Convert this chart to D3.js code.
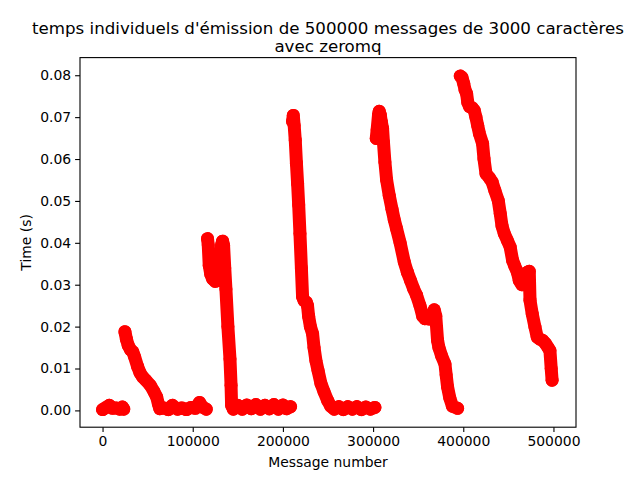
<!DOCTYPE html>
<html>
<head>
<meta charset="utf-8">
<script src="https://cdn.jsdelivr.net/npm/d3@7"></script>
<style>
  body { margin: 0; background: #fff; }
  text { font-family: "DejaVu Sans", sans-serif; fill: #000; }
</style>
</head>
<body>
<div id="chart"></div>
<script>
// message number / send time (s), one array per burst
const run1 = [[0, 0.0002], [4000, 0.0007], [7500, 0.0012], [11000, 0.0005], [15000, 0.0006],
    [19000, 0.0003], [22000, 0.0008], [23500, 0.0003]];
const run2 = [[24800, 0.0188], [26500, 0.0170], [28500, 0.0155], [31000, 0.0145], [33500, 0.0140],
    [35500, 0.0128], [38800, 0.0105], [41500, 0.0090], [44400, 0.0080], [48000, 0.0072],
    [52900, 0.0060], [57000, 0.0045], [60000, 0.0032], [62000, 0.0015], [63500, 0.0004],
    [68000, 0.0006], [73000, 0.0002], [77500, 0.0012], [83000, 0.0003], [88000, 0.0006],
    [93000, 0.0002], [98000, 0.0007], [103000, 0.0005], [107500, 0.0019], [111000, 0.0008],
    [115000, 0.0003]];
const run3 = [[116400, 0.0410], [117200, 0.0395], [118300, 0.0346], [120000, 0.0325], [122000, 0.0314],
    [125000, 0.0308], [128000, 0.0310], [130500, 0.0340], [132000, 0.0395], [133100, 0.0404],
    [134200, 0.0394], [135500, 0.0340], [136800, 0.0290], [139000, 0.0200], [141300, 0.0123],
    [142500, 0.0060], [143100, 0.0012], [145000, 0.0003], [150000, 0.0012], [155000, 0.0003],
    [160000, 0.0013], [165000, 0.0004], [170000, 0.0014], [175000, 0.0003], [180000, 0.0012],
    [185000, 0.0004], [190000, 0.0014], [195000, 0.0003], [200000, 0.0013], [204000, 0.0004],
    [208500, 0.0009]];
const run4 = [[210700, 0.0690], [211500, 0.0704], [212500, 0.0680], [213700, 0.0645], [215000, 0.0590],
    [216300, 0.0541], [217500, 0.0490], [218900, 0.0422], [220500, 0.0340], [221800, 0.0271],
    [223500, 0.0262], [226000, 0.0258], [227300, 0.0250], [228500, 0.0225], [230500, 0.0200],
    [232900, 0.0183], [234500, 0.0150], [236600, 0.0119], [239000, 0.0095], [242200, 0.0064],
    [245500, 0.0045], [249500, 0.0024], [253000, 0.0010], [257000, 0.0003], [262000, 0.0009],
    [267000, 0.0002], [272000, 0.0009], [277000, 0.0003], [282000, 0.0009], [287000, 0.0002],
    [292000, 0.0008], [297000, 0.0003], [302000, 0.0007]];
const run5 = [[303500, 0.0649], [304500, 0.0670], [306000, 0.0705], [306800, 0.0714], [308000, 0.0705],
    [309000, 0.0690], [310500, 0.0673], [311500, 0.0640], [313100, 0.0593], [315000, 0.0550],
    [317900, 0.0513], [321000, 0.0480], [323500, 0.0455], [326000, 0.0434], [330000, 0.0400],
    [334600, 0.0354], [338000, 0.0330], [341500, 0.0310], [345000, 0.0290], [348200, 0.0275],
    [352000, 0.0250], [355000, 0.0225], [357500, 0.0219], [360000, 0.0222], [362000, 0.0218],
    [365000, 0.0225], [367800, 0.0240], [369500, 0.0225], [371500, 0.0167], [373000, 0.0150],
    [376000, 0.0130], [379700, 0.0111], [381000, 0.0085], [382600, 0.0056], [385000, 0.0030],
    [388000, 0.0010], [393700, 0.0005]];
const run6 = [[396700, 0.0798], [398500, 0.0795], [400500, 0.0780], [402000, 0.0765], [403700, 0.0756],
    [405000, 0.0735], [407000, 0.0725], [410000, 0.0722], [412200, 0.0716], [414000, 0.0700],
    [416000, 0.0680], [418000, 0.0660], [421400, 0.0637], [423000, 0.0600], [425200, 0.0565],
    [429000, 0.0555], [432000, 0.0545], [435000, 0.0525], [438800, 0.0501], [441000, 0.0470],
    [443000, 0.0440], [445500, 0.0422], [449000, 0.0405], [452000, 0.0390], [454700, 0.0358],
    [457000, 0.0345], [460000, 0.0330], [462100, 0.0310], [465000, 0.0300], [468000, 0.0305],
    [471000, 0.0330], [473200, 0.0332], [474000, 0.0263], [476500, 0.0230], [479500, 0.0199],
    [482000, 0.0175], [485000, 0.0170], [488000, 0.0167], [491000, 0.0160], [494000, 0.0150],
    [496100, 0.0143], [497500, 0.0100], [498500, 0.0072]];
const runs = [run1, run2, run3, run4, run5, run6];

const xTicks = [0, 100000, 200000, 300000, 400000, 500000];
const yTicks = [0, 0.01, 0.02, 0.03, 0.04, 0.05, 0.06, 0.07, 0.08];
const titleLines = ["temps individuels d'émission de 500000 messages de 3000 caractères", "avec zeromq"];

const width = 640;
const height = 480;
const plotLeft = 80, plotRight = 576, plotTop = 57.6, plotBottom = 427.2;

const svg = d3.select("#chart")
    .append("svg")
    .attr("width", width)
    .attr("height", height);

// matplotlib-like 5% margins around the data
const x = d3.scaleLinear().domain([-25000, 525000]).range([plotLeft, plotRight]);
const y = d3.scaleLinear().domain([-0.00401, 0.08421]).range([plotBottom, plotTop]);

const line = d3.line()
    .x(d => x(d[0]))
    .y(d => y(d[1]));

const marks = svg.append("g");

marks.selectAll("path")
    .data(runs)
    .enter()
    .append("path")
    .attr("d", line)
    .attr("fill", "none")
    .attr("stroke", "#ff0000")
    .attr("stroke-width", 13)
    .attr("stroke-linecap", "round")
    .attr("stroke-linejoin", "round");

marks.selectAll("circle")
    .data(runs.flat())
    .enter()
    .append("circle")
    .attr("cx", d => x(d[0]))
    .attr("cy", d => y(d[1]))
    .attr("r", 6.5)
    .attr("fill", "#ff0000");

const xAxis = d3.axisBottom(x)
    .tickValues(xTicks)
    .tickFormat(d3.format("d"))
    .tickSize(4.9)
    .tickPadding(4);

const yAxis = d3.axisLeft(y)
    .tickValues(yTicks)
    .tickFormat(d3.format(".2f"))
    .tickSize(4.9)
    .tickPadding(4);

const gx = svg.append("g")
    .attr("transform", `translate(0,${plotBottom})`)
    .call(xAxis);

const gy = svg.append("g")
    .attr("transform", `translate(${plotLeft},0)`)
    .call(yAxis);

[gx, gy].forEach(g => {
    g.select(".domain").remove();
    g.selectAll(".tick line").attr("stroke", "#000").attr("stroke-width", 1.1);
    g.selectAll(".tick text")
        .style("font-family", "'DejaVu Sans', sans-serif")
        .style("font-size", "13.9px")
        .attr("fill", "#000");
});

// frame
svg.append("rect")
    .attr("x", plotLeft)
    .attr("y", plotTop)
    .attr("width", plotRight - plotLeft)
    .attr("height", plotBottom - plotTop)
    .attr("fill", "none")
    .attr("stroke", "#000")
    .attr("stroke-width", 1.1);

svg.append("text")
    .attr("x", (plotLeft + plotRight) / 2)
    .attr("y", 466.5)
    .attr("text-anchor", "middle")
    .style("font-size", "13.9px")
    .text("Message number");

svg.append("text")
    .attr("transform", `translate(31,${(plotTop + plotBottom) / 2}) rotate(-90)`)
    .attr("text-anchor", "middle")
    .style("font-size", "13.9px")
    .text("Time (s)");

svg.append("g")
    .selectAll("text")
    .data(titleLines)
    .enter()
    .append("text")
    .attr("x", (plotLeft + plotRight) / 2)
    .attr("y", (d, i) => 34 + i * 18)
    .attr("text-anchor", "middle")
    .style("font-size", "16.67px")
    .text(d => d);
</script>
</body>
</html>
